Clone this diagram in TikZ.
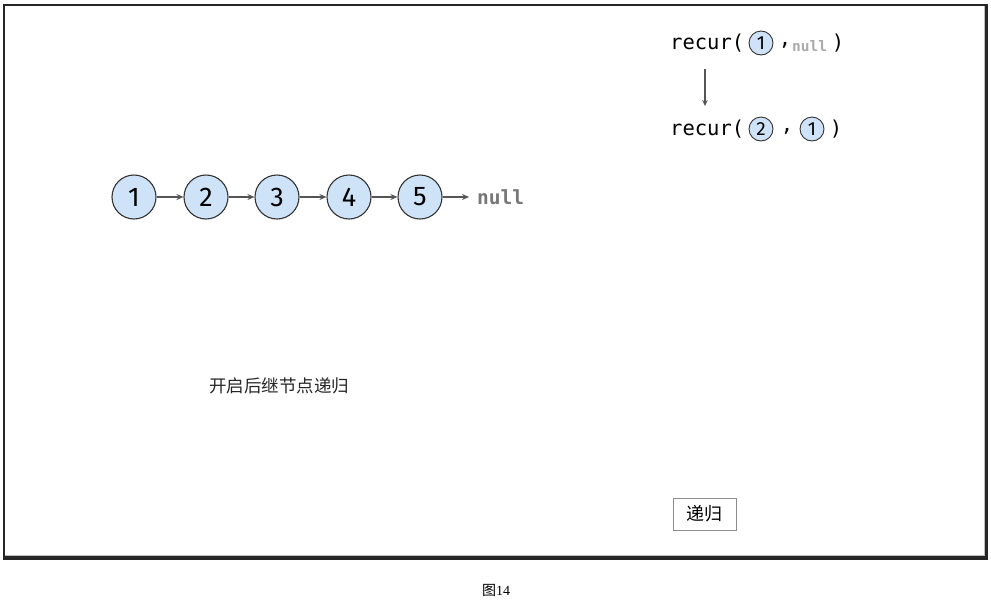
\documentclass[tikz,border=0pt]{standalone}
\usepackage{fontspec}
\setmainfont{Liberation Serif}
\setsansfont{Fira Sans}
\setmonofont{DejaVu Sans Mono}
\newfontfamily\cjk{Noto Sans CJK SC}
\usetikzlibrary{arrows.meta}
\definecolor{nodefill}{HTML}{CFE3F8}
\definecolor{nodeline}{HTML}{333333}
\definecolor{arrowc}{HTML}{555555}
\definecolor{nullc}{HTML}{777777}
\definecolor{nullsm}{HTML}{AAAAAA}
\tikzset{
  listnode/.style={circle, draw=nodeline, line width=1.1pt, fill=nodefill, minimum size=44pt, inner sep=0pt, font=\sffamily\fontsize{27}{27}\selectfont},
  smallnode/.style={circle, draw=nodeline, line width=0.9pt, fill=nodefill, minimum size=24pt, inner sep=0pt, font=\sffamily\fontsize{19}{19}\selectfont},
  link/.style={draw=arrowc, line width=1.6pt, -{Stealth[length=7pt,width=6pt]}},
  codetext/.style={inner sep=0pt, font=\ttfamily\fontsize{20.5}{20.5}\selectfont, text=black},
  cjktext/.style={inner sep=0pt, font=\cjk\fontsize{17.5}{17.5}\selectfont, text=black!85},
}
\begin{document}
\begin{tikzpicture}[x=1pt,y=-1pt]
\useasboundingbox (0,0) rectangle (991,600);
% frame
\fill[black!85] (3,4) rectangle (988,560);
\fill[white] (5,6) rectangle (985,556);
\draw[black!25, line width=0.8pt] (5,555) -- (984.5,555) -- (984.5,6);

% linked list
\node[listnode] (n1) at (134,197) {1};
\node[listnode] (n2) at (206,197) {2};
\node[listnode] (n3) at (277,197) {3};
\node[listnode] (n4) at (349,197) {4};
\node[listnode] (n5) at (420,197) {5};
\node[anchor=west, inner sep=0pt, font=\ttfamily\bfseries\fontsize{19.5}{19.5}\selectfont, text=nullc] (nl) at (477,197) {null};
\draw[link] (n1) -- (n2);
\draw[link] (n2) -- (n3);
\draw[link] (n3) -- (n4);
\draw[link] (n4) -- (n5);
\draw[link] (n5.east) -- ([xshift=-8pt]nl.west);

% recursion calls
\node[codetext, anchor=west] (r1) at (670,43) {recur(};
\node[smallnode] (a1) at (761,43) {1};
\node[codetext] (a1c) at (785,45) {,};
\node[inner sep=0pt, anchor=west, font=\ttfamily\bfseries\fontsize{14.5}{14.5}\selectfont, text=nullsm] (a1n) at (792,46) {null};
\node[codetext] (a1p) at (838,43) {)};

\node[codetext, anchor=west] (r2) at (670,129) {recur(};
\node[smallnode] (b2) at (761,129) {2};
\node[codetext] (b2c) at (787,131) {,};
\node[smallnode] (b1) at (812,129) {1};
\node[codetext] (b1p) at (836,129) {)};

\coordinate (v1) at (705,69);
\coordinate (v2) at (705,106);
\draw[draw=arrowc, line width=1.3pt, -{Stealth[length=6pt,width=5.5pt]}] (v1) -- (v2);

% labels
\node[cjktext] (lab) at (279,386) {开启后继节点递归};
\node[draw=black!45, line width=0.8pt, minimum width=63pt, minimum height=32pt, inner sep=0pt, font=\cjk\fontsize{18}{18}\selectfont] (btn) at (704.5,514) {递归};

\node[inner sep=0pt, font=\fontsize{14}{14}\selectfont] (cap) at (496,590) {{\cjk 图}14};
\end{tikzpicture}
\end{document}
